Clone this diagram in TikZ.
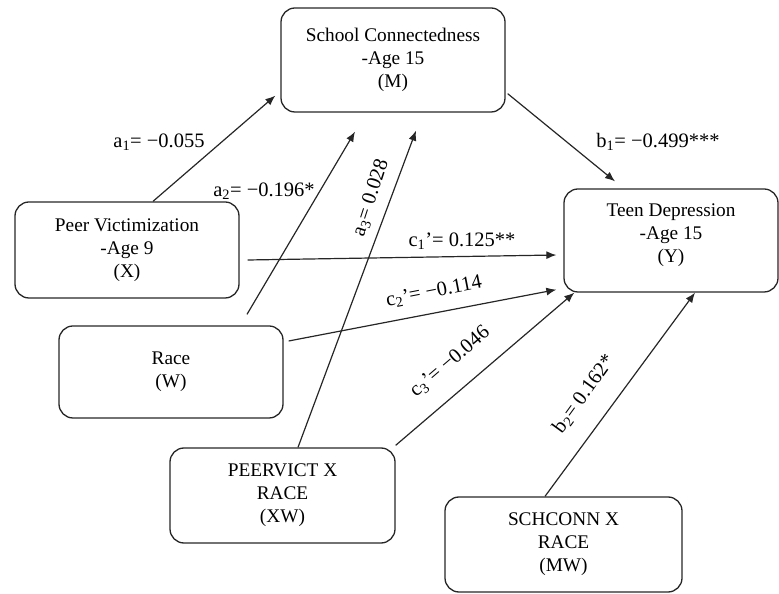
\documentclass[tikz,border=0pt]{standalone}
\usepackage{fontspec}
\setmainfont{Liberation Serif}
\usetikzlibrary{arrows.meta,calc}
\begin{document}
\begin{tikzpicture}[x=1pt,y=1pt,
  box/.style={draw=black!85, line width=1.3pt, rounded corners=14pt, align=center,
    font=\fontsize{19.3}{23}\selectfont, inner sep=0pt},
  boxtext/.style={align=center, font=\fontsize{19.3}{23}\selectfont, inner sep=0pt},
  arr/.style={draw=black!85, line width=1.2pt, -{Latex[length=10pt,width=8pt]}},
  lab/.style={font=\fontsize{20.5}{24}\selectfont, inner sep=0pt}]
\useasboundingbox (0,0) rectangle (779,594);
% boxes
\node[box, minimum width=224pt, minimum height=104pt] (M) at (393,534) {School Connectedness\\-Age 15\\(M)};
\node[box, minimum width=224pt, minimum height=96pt] (X) at (127,344) {Peer Victimization\\-Age 9\\(X)};
\node[box, minimum width=224pt, minimum height=92pt] (W) at (171,222) {Race\\(W)};
\node[box, minimum width=225pt, minimum height=95pt] (XW) at (282.5,98.5) {PEERVICT X\\RACE\\(XW)};
\node[box, minimum width=237pt, minimum height=95pt] (MW) at (563.5,49.5) {SCHCONN X\\RACE\\(MW)};
\node[box, minimum width=214pt, minimum height=103pt] (Y) at (671,353.5) {};
\node[boxtext] (Ytext) at (671,359) {Teen Depression\\-Age 15\\(Y)};
% connectors
\draw[arr] ([xshift=26pt]X.north) -- ([shift={(-5pt,17pt)}]M.south west);
\draw[arr] ([shift={(76pt,11pt)}]W.north) -- ([shift={(-38pt,-19pt)}]M.south);
\draw[arr] ([xshift=15.5pt]XW.north) -- ([shift={(23pt,-18pt)}]M.south);
\draw[arr] ([shift={(2pt,19pt)}]M.south east) -- ([shift={(-56pt,7pt)}]Y.north);
\draw[arr] ([shift={(8pt,-10pt)}]X.east) -- ([shift={(-7pt,-14.5pt)}]Y.west);
\draw[arr] ([shift={(5pt,31pt)}]W.east) -- ([shift={(-7pt,3pt)}]Y.south west);
\draw[arr] ([yshift=2pt]XW.north east) -- ([xshift=11pt]Y.south west);
\draw[arr] ([xshift=-18.5pt]MW.north) -- ([xshift=24pt]Y.south);
% labels
\node[lab] (la1) at (159,452) {a\textsubscript{1}= −0.055};
\node[lab] (la2) at (264,403) {a\textsubscript{2}= −0.196*};
\node[lab, rotate=72] (la3) at (371,396) {a\textsubscript{3}= 0.028};
\node[lab] (lb1) at (658,452) {b\textsubscript{1}= −0.499***};
\node[lab] (lc1) at (462,353) {c\textsubscript{1}’= 0.125**};
\node[lab, rotate=11] (lc2) at (434,302) {c\textsubscript{2}’= −0.114};
\node[lab, rotate=40.5] (lc3) at (450,232) {c\textsubscript{3}’= −0.046};
\node[lab, rotate=54] (lb2) at (584,200) {b\textsubscript{2}= 0.162*};
\end{tikzpicture}
\end{document}
